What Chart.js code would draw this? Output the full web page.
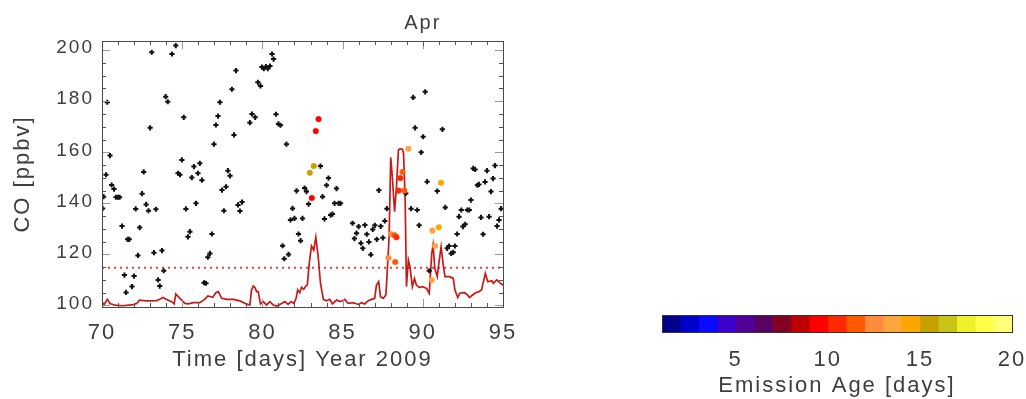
<!DOCTYPE html>
<html><head><meta charset="utf-8">
<script src="https://cdn.jsdelivr.net/npm/chart.js@4.4.0/dist/chart.umd.min.js"></script>
<style>
html,body{margin:0;padding:0;background:#fff;overflow:hidden}
#wrap{position:relative;width:1026px;height:399px}
canvas{position:absolute;left:0;top:0}
</style></head><body>
<div id="wrap"><canvas id="main" width="1026" height="399"></canvas><canvas id="cbar" width="1026" height="399"></canvas></div>
<script>
// ---- observed CO (black crosses) ----
const obsDays = [70.04,70.1,70.25,70.33,70.5,70.6,70.75,70.87,71.0,71.1,71.25,71.4,71.5,71.6,71.7,71.87,72.0,72.1,72.24,72.35,72.5,72.6,72.75,72.9,73.0,73.1,73.24,73.36,73.5,73.6,73.74,73.85,73.97,74.1,74.36,74.6,74.74,74.86,74.98,75.1,75.23,75.36,75.48,75.6,75.73,75.86,75.98,76.1,76.23,76.36,76.48,76.6,76.73,76.85,76.98,77.1,77.23,77.35,77.48,77.6,77.73,77.85,77.98,78.1,78.23,78.35,78.48,78.6,78.73,79.22,79.35,79.55,79.72,79.88,79.97,80.09,80.22,80.34,80.47,80.6,80.7,80.85,81.0,81.13,81.26,81.36,81.5,81.63,81.75,81.88,82.0,82.13,82.25,82.38,82.5,82.63,82.75,82.88,83.62,83.75,83.87,84.0,84.12,84.25,84.37,84.5,84.62,84.75,84.87,85.62,85.74,85.87,86.0,86.14,86.26,86.39,86.51,86.64,86.76,86.88,87.01,87.13,87.26,87.38,87.51,87.63,87.76,88.94,89.27,89.4,89.52,89.65,89.77,89.9,90.02,90.15,90.27,90.4,90.9,91.22,91.4,91.52,91.64,91.77,91.9,92.0,92.14,92.26,92.4,92.5,92.64,92.78,92.9,93.0,93.14,93.26,93.4,93.5,93.63,93.76,93.88,94.0,94.13,94.25,94.38,94.5,94.63,94.75,94.88];
const obsCO = [138.0,142.6,151.2,179.6,158.7,147.2,145.6,142.4,142.4,142.4,131.1,111.9,105.1,125.9,125.9,107.4,111.5,137.8,119.6,130.5,143.8,152.3,139.6,137.1,169.6,199.2,120.7,137.7,110.0,107.6,121.5,113.6,181.8,179.8,198.5,201.8,151.8,151.2,157.0,173.7,137.8,126.9,128.9,150.1,154.4,140.0,151.8,155.7,149.1,108.9,108.7,118.9,120.4,128.0,163.2,170.7,174.2,179.6,145.2,137.1,146.5,152.8,150.8,184.7,166.8,192.0,139.4,137.0,140.5,171.6,175.0,173.7,187.4,186.0,193.4,192.8,193.6,192.8,193.8,198.5,196.5,174.9,171.1,170.6,123.4,118.3,163.2,120.0,133.5,138.0,134.1,144.9,128.0,125.4,134.1,146.0,144.6,139.7,154.6,142.6,133.9,147.1,149.9,135.4,135.8,140.0,145.8,140.0,140.0,132.2,126.2,128.3,130.9,124.4,122.4,131.5,127.9,124.9,119.9,129.8,131.4,125.9,145.1,131.0,126.5,133.1,137.9,143.9,137.9,181.5,169.6,137.4,131.4,160.0,166.1,183.7,148.5,113.6,144.8,169.0,138.4,122.4,123.3,120.4,120.8,123.3,128.0,134.8,137.4,130.9,131.8,137.4,137.4,141.3,153.7,153.3,147.1,147.4,134.5,127.9,148.4,152.8,134.8,144.6,149.7,154.8,131.1,133.5,137.9];

// ---- model CO (red line) ----
const modelDays = [70.0,70.12,70.33,70.5,70.8,71.3,71.95,72.16,72.33,72.78,73.4,73.6,73.8,74.0,74.34,74.5,74.6,74.86,75.17,75.38,75.7,76.1,76.4,76.6,76.9,77.1,77.25,77.46,77.8,78.2,78.6,79.0,79.22,79.32,79.43,79.53,79.64,79.74,79.88,80.05,80.26,80.47,80.67,80.9,81.2,81.4,81.6,81.8,81.96,82.1,82.2,82.33,82.44,82.58,82.7,82.8,82.92,83.06,83.2,83.33,83.48,83.62,83.8,84.0,84.2,84.37,84.62,84.87,85.14,85.35,85.66,85.97,86.18,86.38,86.6,86.8,87.0,87.11,87.25,87.36,87.53,87.7,87.8,87.9,88.0,88.1,88.24,88.36,88.48,88.57,88.73,88.8,88.9,88.98,89.1,89.2,89.35,89.48,89.6,89.77,89.98,90.23,90.4,90.56,90.64,90.75,90.9,91.0,91.14,91.26,91.38,91.67,91.9,92.0,92.18,92.3,92.6,92.8,92.9,93.1,93.3,93.5,93.66,93.9,94.05,94.3,94.4,94.6,94.74,94.9,95.0];
const modelCO = [101.5,100.2,102.4,100.8,100.1,99.9,100.3,100.8,102.1,101.8,101.9,102.4,103.1,102.4,101.5,100.6,104.5,102.8,100.8,100.6,101.1,101.1,102.4,103.7,103.2,105.0,105.4,102.8,102.4,102.4,101.8,100.6,100.2,106.1,107.6,107.1,105.4,105.4,100.6,101.5,100.2,101.5,100.2,99.8,100.8,101.5,100.4,101.5,100.8,102.8,106.1,105.0,107.1,106.3,107.6,108.0,116.5,123.3,121.7,126.7,119.1,108.7,102.4,101.8,102.4,100.6,102.1,101.5,102.4,100.8,101.1,100.4,101.1,100.6,101.9,102.4,102.8,108.0,109.3,103.4,102.8,104.1,115.2,127.0,158.0,150.5,136.7,146.5,160.9,161.3,161.2,159.6,141.3,107.4,117.8,115.2,107.4,110.6,108.0,107.1,107.4,106.7,104.8,120.4,123.7,114.5,111.3,116.5,123.0,116.5,111.3,111.3,110.6,106.1,103.1,104.8,105.0,104.1,103.1,104.1,105.0,105.4,106.1,112.6,109.3,109.7,108.7,110.0,109.3,108.4,108.0];
const thresholdCO = 114.8;

// ---- tagged observations coloured by emission age ----
const taggedDays = [82.96,83.2,83.08,83.33,83.5,87.86,88.02,88.24,88.36,88.28,88.5,88.6,88.73,88.85,89.1,90.56,90.6,90.77,91.0,91.14];
const taggedCO = [152.0,154.6,142.1,168.3,173.0,118.6,128.0,127.5,126.7,117.0,145.0,149.9,152.3,145.0,161.4,110.0,129.3,123.3,130.6,148.1];
const taggedAge = [15.5,15.5,9.5,9.5,9.5,12.5,12.5,11.5,10.5,11.5,10.5,10.5,11.5,11.5,13.5,13.5,13.5,13.5,14.5,14.5];

// ---- colour bar ----
const ageEdges = [1,2,3,4,5,6,7,8,9,10,11,12,13,14,15,16,17,18,19,20];
const ageColors = ['#00008c','#0000cd','#0a0aff','#3c00c8','#500096','#5a0064','#820020','#be0000','#ff0000','#ff2800','#ff5a00','#ff8c3c','#ffa53c','#ffa500','#c8a000','#c8c314','#f0f028','#ffff46','#ffff78'];
const ageTicks = [5,10,15,20];

// ---- axes ----
const xTicks = [70,75,80,85,90,95];
const yTicks = [100,120,140,160,180,200];
const monthDays = [90];
const monthLabels = ['Apr'];

const TXT = '#3e3e3e';
Chart.defaults.font.family = 'Liberation Sans';
Chart.defaults.color = TXT;

const spacing = {
  id: 'spacing',
  beforeUpdate(c){ c.ctx.letterSpacing = '2px'; },
  beforeLayout(c){ c.ctx.letterSpacing = '2px'; },
  beforeDraw(c){ c.ctx.letterSpacing = '2px'; }
};

const frameTicks = {
  id: 'frameTicks',
  afterDraw(chart){
    const {ctx, chartArea:a, scales} = chart;
    const xs = scales.x, ys = scales.y;
    ctx.save();
    ctx.lineWidth = 1;
    for (let d = Math.ceil(xs.min); d <= xs.max; d++){
      const px = Math.round(xs.getPixelForValue(d)) + 0.5;
      const major = d % 5 === 0;
      const len = major ? 8 : 4;
      ctx.strokeStyle = major ? '#9a9a9a' : '#555';
      ctx.beginPath();
      ctx.moveTo(px, a.bottom); ctx.lineTo(px, a.bottom - len);
      ctx.moveTo(px, a.top); ctx.lineTo(px, a.top + len);
      ctx.stroke();
    }
    for (let v = 100; v <= ys.max; v += 5){
      const py = Math.round(ys.getPixelForValue(v)) + 0.5;
      const major = v % 20 === 0;
      const len = major ? 8 : 4;
      ctx.strokeStyle = major ? '#9a9a9a' : '#555';
      ctx.beginPath();
      ctx.moveTo(a.left, py); ctx.lineTo(a.left + len, py);
      ctx.moveTo(a.right, py); ctx.lineTo(a.right - len, py);
      ctx.stroke();
    }
    const mp = Math.round(xs.getPixelForValue(monthDays[0])) + 0.5;
    ctx.strokeStyle = '#555';
    ctx.beginPath(); ctx.moveTo(mp, a.top); ctx.lineTo(mp, a.top + 5); ctx.stroke();
    ctx.strokeStyle = '#4a4a4a';
    ctx.strokeRect(Math.round(a.left)+0.5, Math.round(a.top)+0.5, Math.round(a.right-a.left), Math.round(a.bottom-a.top));
    ctx.restore();
  }
};

const toXY = (xs, ys) => xs.map((x, i) => ({x, y: ys[i]}));
const ageColor = a => ageColors[Math.max(0, Math.min(ageColors.length - 1, Math.floor(a - ageEdges[0])))];

new Chart(document.getElementById('main'), {
  type: 'scatter',
  data: {
    datasets: [
      { data: toXY(taggedDays, taggedCO), pointStyle: 'circle', pointRadius: 2.8,
        backgroundColor: taggedAge.map(ageColor), borderColor: taggedAge.map(ageColor), borderWidth: 0.5, order: 0 },
      { data: toXY(obsDays, obsCO), pointStyle: 'cross', pointRadius: 2.6, borderWidth: 2,
        borderColor: '#111', backgroundColor: '#111', order: 1 },
      { type: 'line', data: toXY(modelDays, modelCO), borderColor: '#c41a1a', borderWidth: 1.7,
        pointRadius: 0, tension: 0, fill: false, order: 2 },
      { type: 'line', data: [{x: xTicks[0], y: thresholdCO}, {x: xTicks[xTicks.length-1], y: thresholdCO}],
        borderColor: '#dd4444', borderWidth: 2, borderDash: [2, 4], pointRadius: 0, fill: false, order: 3 }
    ]
  },
  options: {
    responsive: false, animation: false, devicePixelRatio: 1,
    layout: { padding: { left: 0, top: 0, right: 523, bottom: 0 } },
    plugins: { legend: { display: false }, tooltip: { enabled: false } },
    scales: {
      x: {
        type: 'linear', position: 'bottom', min: 70, max: 95,
        grid: { display: false, drawTicks: false }, border: { display: false },
        afterBuildTicks: s => { s.ticks = xTicks.map(v => ({value: v})); },
        ticks: { font: { size: 22 }, padding: 13, maxRotation: 0, autoSkip: false, color: TXT },
        title: { display: true, text: 'Time [days] Year 2009', font: { size: 22 }, color: TXT, padding: { top: 0, bottom: 26 } },
        afterFit: s => { s.height = 92; }
      },
      x2: {
        type: 'linear', position: 'top', min: 70, max: 95,
        grid: { display: false, drawTicks: false }, border: { display: false },
        afterBuildTicks: s => { s.ticks = monthDays.map(v => ({value: v})); },
        ticks: { font: { size: 20 }, padding: 6, maxRotation: 0, autoSkip: false, color: TXT,
                 callback: v => monthLabels[monthDays.indexOf(v)] },
        afterFit: s => { s.height = 41; }
      },
      y: {
        type: 'linear', position: 'left', min: 99.4, max: 203.6,
        grid: { display: false, drawTicks: false }, border: { display: false },
        afterBuildTicks: s => { s.ticks = yTicks.map(v => ({value: v})); },
        ticks: { font: { size: 19 }, padding: 8, labelOffset: -2, color: TXT },
        title: { display: true, text: 'CO [ppbv]', font: { size: 22 }, color: TXT, padding: { top: 10, bottom: 0 } },
        afterFit: s => { s.width = 102; }
      }
    }
  },
  plugins: [spacing, frameTicks]
});

const cbarFrame = {
  id: 'cbarFrame',
  afterDatasetsDraw(chart){
    const {ctx, chartArea:a} = chart;
    ctx.save();
    ctx.strokeStyle = '#333'; ctx.lineWidth = 1;
    ctx.strokeRect(Math.round(a.left)+0.5, Math.round(a.top)+0.5, Math.round(a.right-a.left), Math.round(a.bottom-a.top));
    ctx.restore();
  }
};

new Chart(document.getElementById('cbar'), {
  type: 'bar',
  data: {
    labels: [''],
    datasets: ageColors.map((c, i) => ({
      data: [[ageEdges[i], ageEdges[i+1]]], backgroundColor: c, borderWidth: 0,
      grouped: false, barPercentage: 1, categoryPercentage: 1
    }))
  },
  options: {
    indexAxis: 'y', responsive: false, animation: false, devicePixelRatio: 1,
    layout: { padding: { left: 662, right: 14, top: 315, bottom: 0 } },
    plugins: { legend: { display: false }, tooltip: { enabled: false } },
    scales: {
      y: { display: false },
      x: {
        type: 'linear', position: 'bottom', min: ageEdges[0], max: ageEdges[ageEdges.length-1],
        grid: { display: false, drawTicks: false }, border: { display: false },
        afterBuildTicks: s => { s.ticks = ageTicks.map(v => ({value: v})); },
        ticks: { font: { size: 22 }, padding: 15, maxRotation: 0, autoSkip: false, color: TXT },
        title: { display: true, text: 'Emission Age [days]', font: { size: 22 }, color: TXT, padding: { top: 0, bottom: 0 } },
        afterFit: s => { s.height = 67; s.paddingLeft = 0; s.paddingRight = 0; }
      }
    }
  },
  plugins: [spacing, cbarFrame]
});
</script>
</body></html>
